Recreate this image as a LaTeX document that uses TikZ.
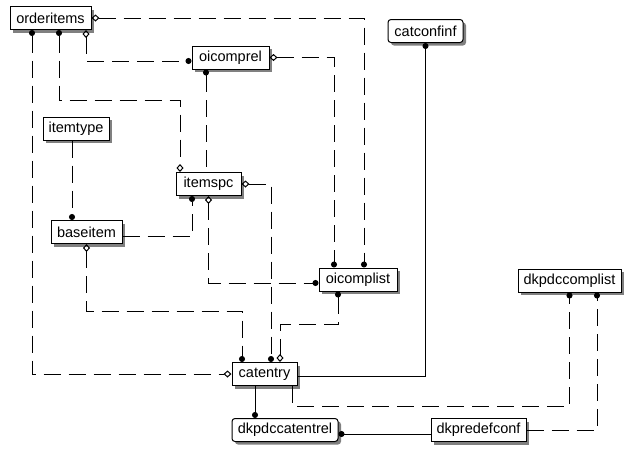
\documentclass[tikz,border=0pt]{standalone}
\usepackage{fontspec}
\setmainfont{Liberation Sans}
\usetikzlibrary{arrows.meta,shadows}

\begin{document}
\begin{tikzpicture}[x=1pt,y=-1pt,line width=1pt,
  ent/.style={draw,fill=white,inner sep=0pt,minimum height=23pt,
    font=\fontsize{14.5}{16}\selectfont,
    drop shadow={shadow xshift=3pt,shadow yshift=-3pt,fill=black!50,opacity=1}},
  dep/.style={ent,rounded corners=3pt},
  rel/.style={dash pattern=on 17pt off 8pt},
  dot/.tip={Circle[length=6pt]},
  dia/.tip={Diamond[open,length=8pt,width=7pt]}]
\useasboundingbox (0,0) rectangle (634,456);
% entities
\node[ent,minimum width=81pt] (orderitems) at (50.5,18) {orderitems};
\node[ent,minimum width=77pt] (oicomprel) at (230.5,57.5) {oicomprel};
\node[dep,minimum width=75pt] (catconfinf) at (425.5,31) {catconfinf};
\node[ent,minimum width=66pt] (itemtype) at (76,128.5) {itemtype};
\node[ent,minimum width=65pt] (itemspc) at (208.5,184) {itemspc};
\node[ent,minimum width=71pt] (baseitem) at (86.5,232) {baseitem};
\node[ent,minimum width=78pt] (oicomplist) at (358,279.5) {oicomplist};
\node[ent,minimum width=103pt] (dkpdccomplist) at (569.5,280.5) {dkpdccomplist};
\node[ent,minimum width=65pt] (catentry) at (264.5,374) {catentry};
\node[dep,minimum width=106pt] (dkpdccatentrel) at (285,430) {dkpdccatentrel};
\node[ent,minimum width=95pt] (dkpredefconf) at (478.5,430) {dkpredefconf};
% relationships
\draw[rel,dia-dot] (orderitems.east) -| ([xshift=6pt]oicomplist.north);
\draw[rel,dia-dot] (oicomprel.east) -| ([xshift=-24pt]oicomplist.north);
\draw[rel,dia-dot] ([xshift=35.5pt]orderitems.south) |- ([yshift=-3.5pt]oicomprel.west);
\draw[rel,dot-dia] ([xshift=8.5pt]orderitems.south) -- ++(0,70) -| ([xshift=-28.5pt]itemspc.north);
\draw[rel,dot-dia] ([xshift=-18.5pt]orderitems.south) |- (catentry.west);
\draw[rel,dot-] ([xshift=-24.5pt]oicomprel.south) -- ([xshift=-2.5pt]itemspc.north);
\draw[rel,-dot] ([xshift=-4pt]itemtype.south) -- ([xshift=-14.5pt]baseitem.north);
\draw[rel,-dot] ([yshift=-4pt]baseitem.east) -| ([xshift=-16.5pt]itemspc.south);
\draw[rel,dia-dot] (itemspc.south) |- ([yshift=-3.5pt]oicomplist.west);
\draw[rel,dia-dot] (itemspc.east) -| ([xshift=6.5pt]catentry.north);
\draw[rel,dia-dot] (baseitem.south) -- ++(0,67) -| ([xshift=-22.5pt]catentry.north);
\draw[rel,dot-dia] ([xshift=-20pt]oicomplist.south) -- ++(0,33) -| ([xshift=15.5pt]catentry.north);
\draw[dot-] (catconfinf.south) |- ([yshift=-2pt]catentry.east);
\draw[-dot] ([xshift=-9.5pt]catentry.south) -- ([xshift=-30pt]dkpdccatentrel.north);
\draw[rel,-dot] ([xshift=27.5pt]catentry.south) -- ++(0,20) -| (dkpdccomplist.south);
\draw[rel,-dot] (dkpredefconf.east) -| ([xshift=27.5pt]dkpdccomplist.south);
\draw[dot-] ([yshift=-4pt]dkpdccatentrel.east) -- ([yshift=-4pt]dkpredefconf.west);
\end{tikzpicture}
\end{document}
